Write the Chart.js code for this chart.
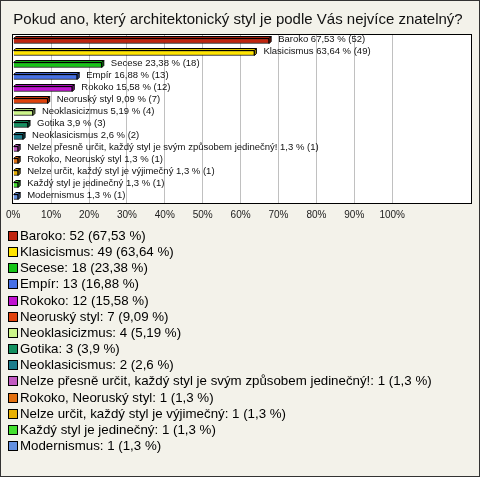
<!DOCTYPE html>
<html><head><meta charset="utf-8">
<script src="https://cdn.jsdelivr.net/npm/chart.js@4/dist/chart.umd.min.js"></script>
<style>html,body{margin:0;padding:0;background:#f3f2ea;}</style>
</head><body>
<canvas id="c" width="480" height="477" style="display:block;width:480px;height:477px"></canvas>
<script>
const chartTitle = "Pokud ano, který architektonický styl je podle Vás nejvíce znatelný?";
const categories = ["Baroko","Klasicismus","Secese","Empír","Rokoko","Neoruský styl","Neoklasicizmus","Gotika","Neoklasicismus","Nelze přesně určit, každý styl je svým způsobem jedinečný!","Rokoko, Neoruský styl","Nelze určit, každý styl je výjimečný","Každý styl je jedinečný","Modernismus"];
const counts = [52,49,18,13,12,7,4,3,2,1,1,1,1,1];
const percents = [67.53,63.64,23.38,16.88,15.58,9.09,5.19,3.9,2.6,1.3,1.3,1.3,1.3,1.3];
const percentLabels = ["67,53","63,64","23,38","16,88","15,58","9,09","5,19","3,9","2,6","1,3","1,3","1,3","1,3","1,3"];
const colors = ["#c0250f","#ffe400","#16c416","#4670e6","#c012d0","#e0420c","#ccf58a","#139060","#1c7d8c","#c25ac2","#e27010","#e8b000","#44e030","#6490e0"];
const tickValues = [0,10,20,30,40,50,60,70,80,90,100];

function darken(hex, f){
  const n = parseInt(hex.slice(1),16);
  const r = Math.round(((n>>16)&255)*f), g = Math.round(((n>>8)&255)*f), b = Math.round((n&255)*f);
  return `rgb(${r},${g},${b})`;
}

const decor = {
  id: 'decor',
  beforeDraw(chart){
    const {ctx, chartArea:a} = chart;
    ctx.save();
    ctx.fillStyle = '#f3f2ea';
    ctx.fillRect(0,0,chart.width,chart.height);
    ctx.fillStyle = '#ffffff';
    ctx.fillRect(a.left, a.top, a.right-a.left, a.bottom-a.top);
    ctx.restore();
  },
  beforeDatasetsDraw(chart){
    const {ctx, chartArea:a} = chart;
    ctx.save();
    ctx.strokeStyle = '#000';
    ctx.lineWidth = 1;
    ctx.strokeRect(Math.round(a.left)-0.5, Math.round(a.top)-0.5, Math.round(a.right-a.left)+1, Math.round(a.bottom-a.top)+1);
    ctx.restore();
  },
  afterDatasetsDraw(chart){
    const {ctx} = chart;
    const meta = chart.getDatasetMeta(0);
    const d = 2;
    ctx.save();
    meta.data.forEach((el, i) => {
      const x0 = el.base, x1 = el.x;
      const yT = el.y - el.height/2, yB = el.y + el.height/2;
      ctx.lineWidth = 1;
      ctx.strokeStyle = '#000';
      ctx.fillStyle = darken(colors[i], 0.85);
      ctx.beginPath();
      ctx.moveTo(x0, yT); ctx.lineTo(x0+d, yT-d); ctx.lineTo(x1+d, yT-d); ctx.lineTo(x1, yT); ctx.closePath();
      ctx.fill(); ctx.stroke();
      ctx.fillStyle = darken(colors[i], 0.65);
      ctx.beginPath();
      ctx.moveTo(x1, yT); ctx.lineTo(x1+d, yT-d); ctx.lineTo(x1+d, yB-d); ctx.lineTo(x1, yB); ctx.closePath();
      ctx.fill(); ctx.stroke();
      ctx.fillStyle = '#111';
      ctx.font = '9.5px "Liberation Sans", Arial, sans-serif';
      ctx.textAlign = 'left';
      ctx.textBaseline = 'middle';
      ctx.fillText(categories[i] + ' ' + percentLabels[i] + ' % (' + counts[i] + ')', x1 + 9, el.y - 1.5);
    });
    ctx.restore();
  },
  afterDraw(chart){
    const {ctx, chartArea:a} = chart;
    ctx.save();
    ctx.fillStyle = '#111';
    ctx.font = '15px "Liberation Sans", Arial, sans-serif';
    ctx.textAlign = 'center';
    ctx.textBaseline = 'middle';
    ctx.fillText(chartTitle, 238, 20);
    ctx.font = '13.3px "Liberation Sans", Arial, sans-serif';
    ctx.textAlign = 'left';
    const top = a.bottom + 29;
    categories.forEach((c, i) => {
      const y = Math.round(top + i*16.15);
      ctx.fillStyle = colors[i];
      ctx.fillRect(9, y, 8, 8);
      ctx.strokeStyle = '#000';
      ctx.lineWidth = 1;
      ctx.strokeRect(8.5, y-0.5, 9, 9);
      ctx.fillStyle = '#000';
      ctx.fillText(c + ': ' + counts[i] + ' (' + percentLabels[i] + ' %)', 20, y + 4.5);
    });
    ctx.strokeStyle = '#333';
    ctx.strokeRect(0.5, 0.5, chart.width-1, chart.height-1);
    ctx.restore();
  }
};

new Chart(document.getElementById('c'), {
  type: 'bar',
  data: {
    labels: categories,
    datasets: [{
      data: percents,
      backgroundColor: colors,
      borderColor: '#000',
      borderWidth: 1,
      barThickness: 5
    }]
  },
  options: {
    indexAxis: 'y',
    responsive: false,
    animation: false,
    devicePixelRatio: 1,
    layout: { padding: { left: 12, right: 9, top: 35, bottom: 254 } },
    plugins: { legend: { display: false }, title: { display: false }, tooltip: { enabled: false } },
    scales: {
      y: { display: false, grid: { display: false } },
      x: {
        min: 0, max: 120.8,
        afterBuildTicks: s => { s.ticks = tickValues.map(v => ({value: v})); },
        afterFit: s => { s.height = 20; },
        border: { display: false },
        grid: { color: c => (c.tick && c.tick.value === 0) ? 'rgba(0,0,0,0)' : '#c0c0c0', drawTicks: false, lineWidth: 1 },
        ticks: { color: '#222', font: { family: 'Liberation Sans', size: 10 }, padding: 6, maxRotation: 0, autoSkip: false, callback: v => v + '%' }
      }
    }
  },
  plugins: [decor]
});
</script>
</body></html>
